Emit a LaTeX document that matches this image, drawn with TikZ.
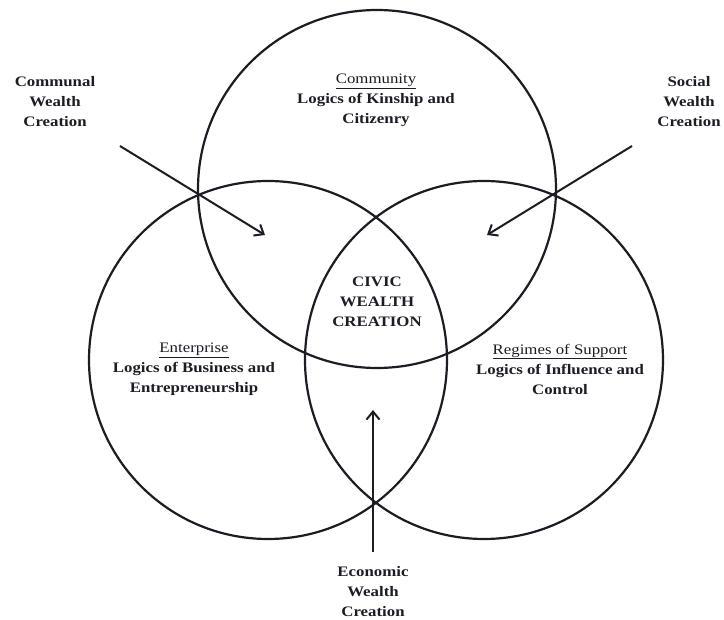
\documentclass[tikz,border=0pt]{standalone}
\usepackage{fontspec}
\setmainfont{Liberation Serif}[FakeStretch=1.16]
\usetikzlibrary{arrows.meta}
\definecolor{ink}{RGB}{28,28,36}
\begin{document}
\begin{tikzpicture}[x=1pt,y=-1pt,
  ring/.style={draw=ink,line width=2.2pt},
  flow/.style={draw=ink,line width=2pt,-{Straight Barb[length=8pt,width=13pt,line width=2pt]}},
  lbl/.style={align=center,text=ink,font=\fontsize{14.5}{20}\selectfont\bfseries,inner sep=0pt}]
\useasboundingbox (0,0) rectangle (724,620);
% the three overlapping domains
\draw[ring] (377,189) circle (179);
\draw[ring] (268,360) circle (179);
\draw[ring] (484,360) circle (179);
% domain captions
\node[lbl] (comm) at (376,100) {{\mdseries\underline{Community}}\\Logics of Kinship and\\Citizenry};
\node[lbl] (ent) at (194,369) {{\mdseries\underline{Enterprise}}\\Logics of Business and\\Entrepreneurship};
\node[lbl] (reg) at (560,369) {{\mdseries\underline{Regimes of Support}}\\Logics of Influence and\\Control};
\node[lbl] (civic) at (377,302) {CIVIC\\WEALTH\\CREATION};
% outside labels
\node[lbl] (communal) at (55,102) {Communal\\Wealth\\Creation};
\node[lbl] (social) at (689,102) {Social\\Wealth\\Creation};
\node[lbl] (economic) at (373,592) {Economic\\Wealth\\Creation};
% arrows into the centre
\coordinate (a1) at (120,146); \coordinate (b1) at (265,235);
\coordinate (a2) at (632,146); \coordinate (b2) at (487,235);
\coordinate (a3) at (373,552); \coordinate (b3) at (373,410);
\draw[flow] (a1) -- (b1);
\draw[flow] (a2) -- (b2);
\draw[flow] (a3) -- (b3);
\end{tikzpicture}
\end{document}
